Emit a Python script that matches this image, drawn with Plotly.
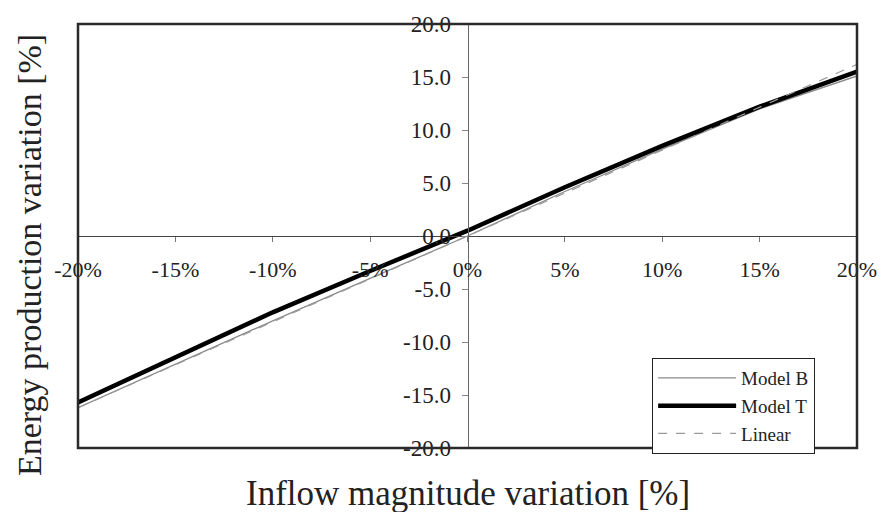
import plotly.graph_objects as go

inflow = [-20, -15, -10, -5, 0, 5, 10, 15, 20]
model_b = [-16.2, -12.1, -8.0, -4.0, 0.0, 4.2, 8.2, 12.0, 15.1]
model_t = [-15.7, -11.4, -7.2, -3.3, 0.5, 4.6, 8.5, 12.2, 15.5]
linear = [-16.2, -12.15, -8.1, -4.05, 0.0, 4.05, 8.1, 12.15, 16.2]

x_ticks = [-20, -15, -10, -5, 0, 5, 10, 15, 20]
y_ticks = [-20, -15, -10, -5, 0, 5, 10, 15, 20]

FONT = "Liberation Serif"

fig = go.Figure()
fig.add_trace(go.Scatter(x=inflow, y=model_b, mode="lines", name="Model B",
                         line=dict(color="#8a8a8a", width=1.3)))
fig.add_trace(go.Scatter(x=inflow, y=model_t, mode="lines", name="Model T",
                         line=dict(color="#000000", width=4.5)))
fig.add_trace(go.Scatter(x=inflow, y=linear, mode="lines", name="Linear",
                         line=dict(color="#9a9a9a", width=1.2, dash="dash")))

fig.update_layout(
    width=889, height=512,
    margin=dict(l=78, r=25, t=18, b=64),
    paper_bgcolor="white", plot_bgcolor="white",
    font=dict(family=FONT, color="#222222"),
    showlegend=True,
    legend=dict(x=0.737, y=0.212, xanchor="left", yanchor="top",
                bgcolor="white", bordercolor="#222222", borderwidth=1,
                font=dict(family=FONT, size=19, color="#222222"),
                tracegroupgap=0, itemwidth=78, entrywidth=180, entrywidthmode="pixels"),
    xaxis=dict(range=[-20, 20], tickvals=x_ticks,
               ticktext=[f"{v}%" for v in x_ticks],
               anchor="free", position=0.5,
               showline=True, linecolor="#444444", linewidth=1,
               ticks="outside", ticklen=5, tickcolor="#777777",
               showgrid=False, zeroline=False,
               ticklabelstandoff=9,
               tickfont=dict(family=FONT, size=22, color="#222222")),
    yaxis=dict(range=[-20, 20], tickvals=y_ticks,
               ticktext=[f"{v:.1f}" for v in y_ticks],
               anchor="free", position=0.5,
               showline=True, linecolor="#666666", linewidth=1,
               ticks="outside", ticklen=6, tickcolor="#888888",
               showgrid=False, zeroline=False,
               ticklabelstandoff=6,
               tickfont=dict(family=FONT, size=23, color="#222222")),
    shapes=[dict(type="rect", xref="paper", yref="paper", x0=0, y0=0, x1=1, y1=1,
                 line=dict(color="#2a2a2a", width=2.5), layer="above")],
    annotations=[
        dict(text="Inflow magnitude variation [%]", xref="paper", yref="paper",
             x=0.5, y=-0.108, xanchor="center", yanchor="middle", showarrow=False,
             font=dict(family=FONT, size=35, color="#222222")),
        dict(text="Energy production variation [%]", xref="paper", yref="paper",
             x=-0.063, y=0.455, xanchor="center", yanchor="middle", showarrow=False,
             textangle=-90, font=dict(family=FONT, size=34, color="#222222")),
    ],
)

fig.write_html("out.html")
